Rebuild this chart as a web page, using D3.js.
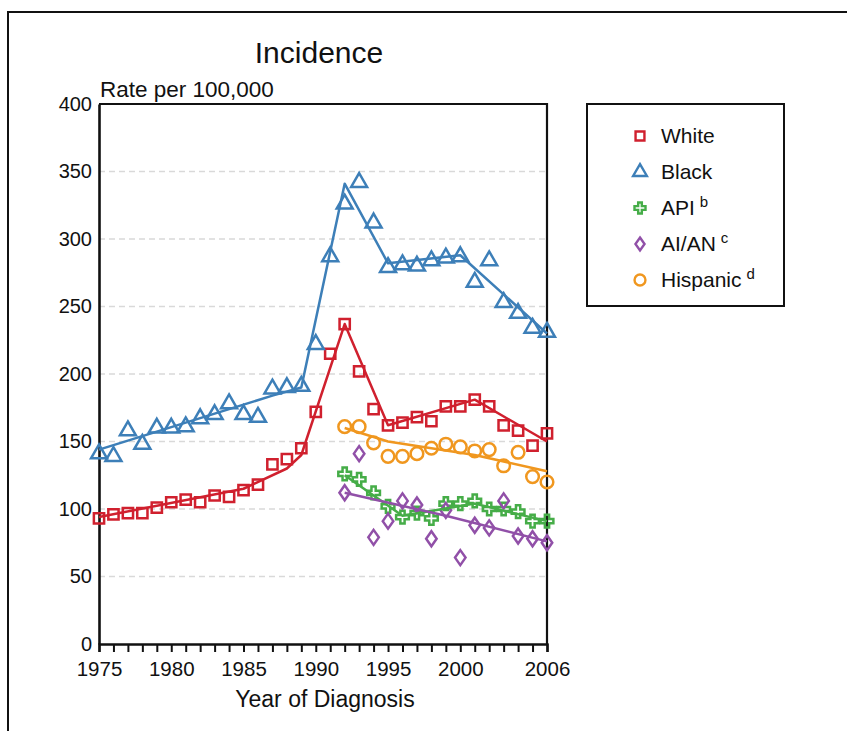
<!DOCTYPE html>
<html>
<head>
<meta charset="utf-8">
<script src="https://cdn.jsdelivr.net/npm/d3@7/dist/d3.min.js"></script>
<style>
  html, body { margin: 0; padding: 0; background: #fff; }
  svg { display: block; font-family: "Liberation Sans", Arial, Helvetica, sans-serif; }
</style>
</head>
<body>
<svg id="chart" width="847" height="731"></svg>
<script>
// Observed rates per 100,000 by year of diagnosis
const years = [1975,1976,1977,1978,1979,1980,1981,1982,1983,1984,1985,1986,1987,1988,1989,1990,
               1991,1992,1993,1994,1995,1996,1997,1998,1999,2000,2001,2002,2003,2004,2005,2006];
const white = [93,96,97,97,101,105,107,105,110,109,114,118,133,137,145,172,
               215,237,202,174,162,164,168,165,176,176,181,176,162,158,147,156];
const black = [141,139,158,148,160,160,161,167,170,178,170,168,189,190,191,222,
               287,326,342,312,279,281,280,284,286,287,268,284,253,245,234,231];

const lateYears = [1992,1993,1994,1995,1996,1997,1998,1999,2000,2001,2002,2003,2004,2005,2006];
const api      = [126,122,112,102,94,97,93,104,104,106,100,100,98,91,91];
const aian     = [112,141,79,91,106,103,78,99,64,88,86,106,80,78,75];
const hispanic = [161,161,149,139,139,141,145,148,146,143,144,132,142,124,120];

// Joinpoint trend lines (segment end points)
const whiteFitYears = [1975,1985,1988,1989,1992,1995,2001,2006];
const whiteFit      = [94,115,130,140,237,162,181,150];
const blackFitYears = [1975,1987,1989,1992,1995,2000,2006];
const blackFit      = [144,184,190,341,282,288,230];
const apiFitYears   = [1992,1996,2001,2006];
const apiFit        = [125,95,104,91];
const aianFitYears  = [1992,1999,2006];
const aianFit       = [112,95,76];
const hispFitYears  = [1992,1995,2001,2006];
const hispFit       = [160,150,140,128];

const yTicks = [0,50,100,150,200,250,300,350,400];
const xLabelYears = [1975,1980,1985,1990,1995,2000,2006];

const colors = { white: "#d0202e", black: "#3d7fb8", api: "#46ad48", aian: "#9150a8", hisp: "#f0971f" };

// Diamond marker, taller than wide
const diamondTall = {
  draw(ctx, size) {
    const h = Math.sqrt(size) * 0.75;
    const w = h * 0.7;
    ctx.moveTo(0, -h); ctx.lineTo(w, 0); ctx.lineTo(0, h); ctx.lineTo(-w, 0); ctx.closePath();
  }
};

const series = [
  { key: "white", label: "White", sup: "", years: years, vals: white, fx: whiteFitYears, fy: whiteFit, sym: d3.symbolSquare, size: 105 },
  { key: "black", label: "Black", sup: "", years: years, vals: black, fx: blackFitYears, fy: blackFit, sym: d3.symbolTriangle, size: 110 },
  { key: "api",   label: "API",   sup: "b", years: lateYears, vals: api, fx: apiFitYears, fy: apiFit, sym: d3.symbolCross, size: 90 },
  { key: "aian",  label: "AI/AN", sup: "c", years: lateYears, vals: aian, fx: aianFitYears, fy: aianFit, sym: diamondTall, size: 100 },
  { key: "hisp",  label: "Hispanic", sup: "d", years: lateYears, vals: hispanic, fx: hispFitYears, fy: hispFit, sym: d3.symbolCircle, size: 125 }
];

const svg = d3.select("#chart");

// Outer frame (top and left edges)
svg.append("path").attr("d", "M8,731 L8,12 L847,12")
  .attr("fill", "none").attr("stroke", "#111").attr("stroke-width", 2);

const m = { left: 99, right: 547, top: 104, bottom: 644 };
const x = d3.scaleLinear().domain([1975, 2006]).range([m.left, m.right]);
const y = d3.scaleLinear().domain([0, 400]).range([m.bottom, m.top]);

// Dashed gridlines
svg.append("g").selectAll("line")
  .data(yTicks.filter(t => t > 0 && t < 400))
  .join("line")
  .attr("x1", m.left).attr("x2", m.right)
  .attr("y1", d => y(d)).attr("y2", d => y(d))
  .attr("stroke", "#d9d9d9").attr("stroke-width", 1.5).attr("stroke-dasharray", "6,4");

// Plot box: top and right edges
svg.append("path")
  .attr("d", `M${m.left},${m.top} L${m.right},${m.top} L${m.right},${m.bottom}`)
  .attr("fill", "none").attr("stroke", "#111").attr("stroke-width", 2.2);

// Y axis
const yAxis = svg.append("g").attr("transform", `translate(${m.left},0)`)
  .call(d3.axisLeft(y).tickValues(yTicks).tickSize(0).tickPadding(7).tickFormat(d3.format("d")));
yAxis.select(".domain").attr("stroke", "#111").attr("stroke-width", 2.6);
yAxis.selectAll("text").attr("font-size", 20).attr("fill", "#111")
  .attr("font-family", "Liberation Sans, Arial, sans-serif");

// X axis
const xAxis = svg.append("g").attr("transform", `translate(0,${m.bottom})`)
  .call(d3.axisBottom(x).tickValues(years).tickSize(8).tickPadding(9)
    .tickFormat(d => xLabelYears.includes(d) ? String(d) : ""));
xAxis.select(".domain").attr("stroke", "#111").attr("stroke-width", 2.4);
xAxis.selectAll(".tick line").attr("stroke", "#111").attr("stroke-width", 2);
xAxis.selectAll("text").attr("font-size", 20.5).attr("fill", "#111")
  .attr("font-family", "Liberation Sans, Arial, sans-serif");

// Titles
svg.append("text").attr("x", 319).attr("y", 63).attr("text-anchor", "middle")
  .attr("font-size", 30).attr("fill", "#111").text("Incidence");
svg.append("text").attr("x", 100).attr("y", 97)
  .attr("font-size", 22.5).attr("fill", "#111").text("Rate per 100,000");
svg.append("text").attr("x", 325).attr("y", 707).attr("text-anchor", "middle")
  .attr("font-size", 23).attr("fill", "#111").text("Year of Diagnosis");

// Series: markers then trend lines
const line = d3.line().x(d => x(d[0])).y(d => y(d[1]));
const plot = svg.append("g");
series.forEach(s => {
  const c = colors[s.key];
  plot.append("g").selectAll("path")
    .data(s.years.map((yr, i) => [yr, s.vals[i]]))
    .join("path")
    .attr("transform", d => `translate(${x(d[0])},${y(d[1])})`)
    .attr("d", d3.symbol().type(s.sym).size(s.size))
    .attr("fill", "none").attr("stroke", c).attr("stroke-width", 2.5);
});
series.forEach(s => {
  plot.append("path")
    .datum(s.fx.map((yr, i) => [yr, s.fy[i]]))
    .attr("d", line)
    .attr("fill", "none").attr("stroke", colors[s.key]).attr("stroke-width", 2.5)
    .attr("stroke-linejoin", "round");
});

// Legend
const lg = svg.append("g");
lg.append("rect").attr("x", 587).attr("y", 104).attr("width", 197).attr("height", 202)
  .attr("fill", "#fff").attr("stroke", "#111").attr("stroke-width", 2);
const rowY = [136, 172, 208, 244, 280];
series.forEach((s, i) => {
  lg.append("path")
    .attr("transform", `translate(640,${rowY[i]})`)
    .attr("d", d3.symbol().type(s.sym).size(s.size * 0.75))
    .attr("fill", "none").attr("stroke", colors[s.key]).attr("stroke-width", 2.4);
  const t = lg.append("text").attr("x", 661).attr("y", rowY[i] + 7)
    .attr("font-size", 21).attr("fill", "#111");
  t.append("tspan").text(s.label);
  if (s.sup) {
    t.append("tspan").attr("dx", 5).attr("dy", -8).attr("font-size", 15).text(s.sup);
  }
});
</script>
</body>
</html>
